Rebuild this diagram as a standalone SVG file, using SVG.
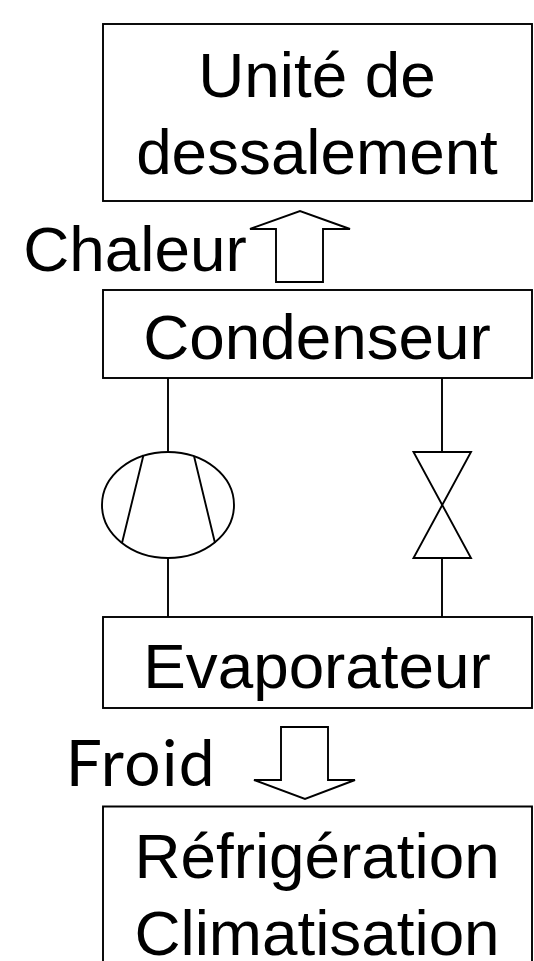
<svg xmlns="http://www.w3.org/2000/svg" width="534" height="961" viewBox="0 0 534 961">
<style>
.b{fill:#fff;stroke:#000;stroke-width:1.9}
.l{fill:none;stroke:#000;stroke-width:1.9}
text{font-family:"Liberation Sans",Arial,sans-serif;font-size:63.8px;fill:#000;text-anchor:middle}
</style>
<rect width="534" height="961" fill="#fff"/>
<g id="connectors">
<path class="l" d="M168 378V452M168 558V617M442 378V452M442 558V617"/>
</g>
<g id="desal"><rect class="b" x="103" y="24" width="429" height="177"/><text x="317" y="97">Unité de</text><text x="317" y="174">dessalement</text></g>
<g id="chaleur"><text x="135" y="271">Chaleur</text><path class="b" d="M276 282H323V229H350L300 211L250 229H276Z"/></g>
<g id="condenseur"><rect class="b" x="103" y="290" width="429" height="88"/><text x="317" y="359">Condenseur</text></g>
<g id="compresseur"><ellipse class="b" cx="168" cy="505" rx="66" ry="53"/><path class="l" d="M143.500 455L122 543M194 456L215 543"/></g>
<g id="vanne"><path class="b" d="M413.500 452H471L413.500 558H471Z"/></g>
<g id="evaporateur"><rect class="b" x="103" y="617" width="429" height="91"/><text x="317" y="688">Evaporateur</text></g>
<g id="froid"><text x="141" y="786" style="font-family:Lato,'Open Sans',sans-serif;font-size:64px;letter-spacing:1.500px">Froid</text><path class="b" d="M281 727H328V780H355L305 799L254 780H281Z"/></g>
<g id="refrig"><path class="b" d="M103 961V806.500H532V961"/><text x="317" y="878">Réfrigération</text><text x="317" y="955">Climatisation</text></g>
</svg>
